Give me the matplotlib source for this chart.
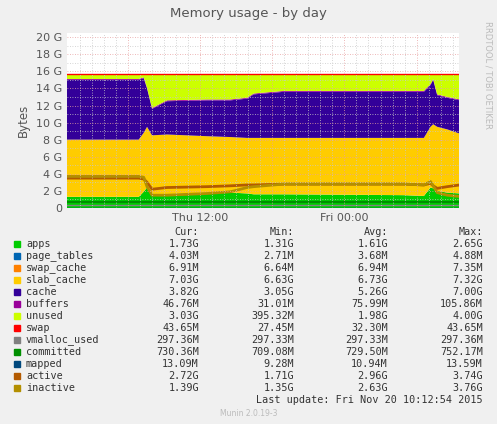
import matplotlib
matplotlib.use("Agg")
import matplotlib.pyplot as plt
import numpy as np

xz = np.array([200,415,430,440,455,500,620,690,740,760,850,1210,1270,1290,1298,1310,1340,1378])
hours = 12 + (xz - 598.5) / 36.1
apps = [1.3,1.3,1.9,2.4,1.5,1.6,1.8,1.8,1.7,1.6,1.6,1.5,1.4,2.4,2.3,2.0,1.8,1.7]
page_tables = [0.004]*18
swap_cache = [0.007]*18
slab = [6.7,6.7,6.9,7.1,7.0,7.0,6.6,6.5,6.5,6.6,6.6,6.7,6.8,7.1,7.5,7.5,7.4,7.0]
cache = [7.0,7.0,6.4,4.5,3.1,3.9,4.2,4.3,4.6,5.1,5.4,5.4,5.4,4.9,5.2,3.7,3.7,3.9]
buffers = [0.1]*18
unused = [0.5,0.5,0.3,1.5,3.9,3.0,2.9,2.9,2.7,2.2,1.9,1.9,1.9,1.1,0.5,2.3,2.6,2.9]
swap = [0.04]*18
vmalloc = [0.297]*18
committed = [0.73]*18
mapped = [0.012]*18
active = [3.5,3.5,3.4,3.0,2.2,2.4,2.5,2.6,2.7,2.7,2.8,2.8,2.7,2.9,2.6,2.3,2.5,2.7]
inactive = [3.7,3.7,3.6,2.5,1.5,1.5,1.7,1.9,2.4,2.5,2.8,2.8,2.7,3.1,2.6,1.8,1.5,1.35]

names = ["apps","page_tables","swap_cache","slab_cache","cache","buffers","unused","swap",
         "vmalloc_used","committed","mapped","active","inactive"]
colors = ["#00CC00","#0066B3","#FF8000","#FFCC00","#330099","#990099","#CCFF00","#FF0000",
          "#808080","#008F00","#00487D","#B35A00","#B38F00"]
cur = ["1.73G","4.03M","6.91M","7.03G","3.82G","46.76M","3.03G","43.65M","297.36M","730.36M","13.09M","2.72G","1.39G"]
mn = ["1.31G","2.71M","6.64M","6.63G","3.05G","31.01M","395.32M","27.45M","297.33M","709.08M","9.28M","1.71G","1.35G"]
avg = ["1.61G","3.68M","6.94M","6.73G","5.26G","75.99M","1.98G","32.30M","297.33M","729.50M","10.94M","2.96G","2.63G"]
mx = ["2.65G","4.88M","7.35M","7.32G","7.00G","105.86M","4.00G","43.65M","297.36M","752.17M","13.59M","3.74G","3.76G"]

fig = plt.figure(figsize=(4.97,4.24), dpi=100, facecolor="#F0F0F0")
ax = fig.add_axes([67/497, (424-208)/424, 392/497, 175/424])
ax.set_facecolor("white")
stack = [apps,page_tables,swap_cache,slab,cache,buffers,unused]
ax.stackplot(hours, *stack, colors=colors[:7], linewidth=0)
total = np.sum(np.array(stack), axis=0)
ax.plot(hours, total + np.array(swap), color=colors[7], lw=1)
ax.plot(hours, vmalloc, color=colors[8], lw=1)
ax.plot(hours, committed, color=colors[9], lw=1.5)
ax.plot(hours, mapped, color=colors[10], lw=1)
ax.plot(hours, active, color=colors[11], lw=2)
ax.plot(hours, inactive, color=colors[12], lw=2)

ax.set_xlim(hours[0], 12 + (1406-598.5)/36.1 - 0.8)
ax.set_xlim(hours[0], hours[0] + 392/12.04)
ax.set_ylim(0, 20.5)
ax.set_yticks(np.arange(0, 21, 2))
ax.set_yticklabels(["0"] + [f"{v} G" for v in range(2, 21, 2)])
ax.set_yticks(np.arange(0, 21, 1), minor=True)
ax.set_xticks(np.arange(6, 34, 6))
ax.set_xticklabels(["", "Thu 12:00", "", "Fri 00:00", ""])
ax.set_xticks(np.arange(2, 34, 1), minor=True)
ax.grid(which="minor", color="#C8C8C8", ls=(0,(1,2)), lw=0.6)
ax.grid(which="major", color="#E8A0A0", ls=(0,(1,2)), lw=0.6)
ax.set_axisbelow(False)
for s in ax.spines.values():
    s.set_visible(False)
ax.tick_params(which="both", length=0, labelsize=8, colors="#555555")
ax.set_ylabel("Bytes", fontsize=8.5, color="#555555")
fig.text(0.5, 1-13/424, "Memory usage - by day", ha="center", va="center", fontsize=9.5, color="#555555")
fig.text(488/497, 1-75/424, "RRDTOOL / TOBI OETIKER", rotation=270, ha="center", va="center", fontsize=6, color="#BBBBBB")

mono = "DejaVu Sans Mono"
fs = 7.3
def yy(p): return 1 - p/424
for x, h in [(199, "Cur:"), (294, "Min:"), (388, "Avg:"), (483, "Max:")]:
    fig.text(x/497, yy(232), h, ha="right", va="center", family=mono, fontsize=fs, color="#333333")
for i, n in enumerate(names):
    y = 244 + i*12
    fig.patches.append(plt.Rectangle((14/497, yy(y+3)), 6/497, 6/424, transform=fig.transFigure, color=colors[i]))
    fig.text(26/497, yy(y), n, va="center", family=mono, fontsize=fs, color="#333333")
    for x, v in [(199, cur[i]), (294, mn[i]), (388, avg[i]), (483, mx[i])]:
        fig.text(x/497, yy(y), v, ha="right", va="center", family=mono, fontsize=fs, color="#333333")
fig.text(483/497, yy(400), "Last update: Fri Nov 20 10:12:54 2015", ha="right", va="center", family=mono, fontsize=fs, color="#333333")
fig.text(249/497, yy(413), "Munin 2.0.19-3", ha="center", va="center", fontsize=5.5, color="#BBBBBB")
fig.savefig("out.png", dpi=100, facecolor=fig.get_facecolor())
